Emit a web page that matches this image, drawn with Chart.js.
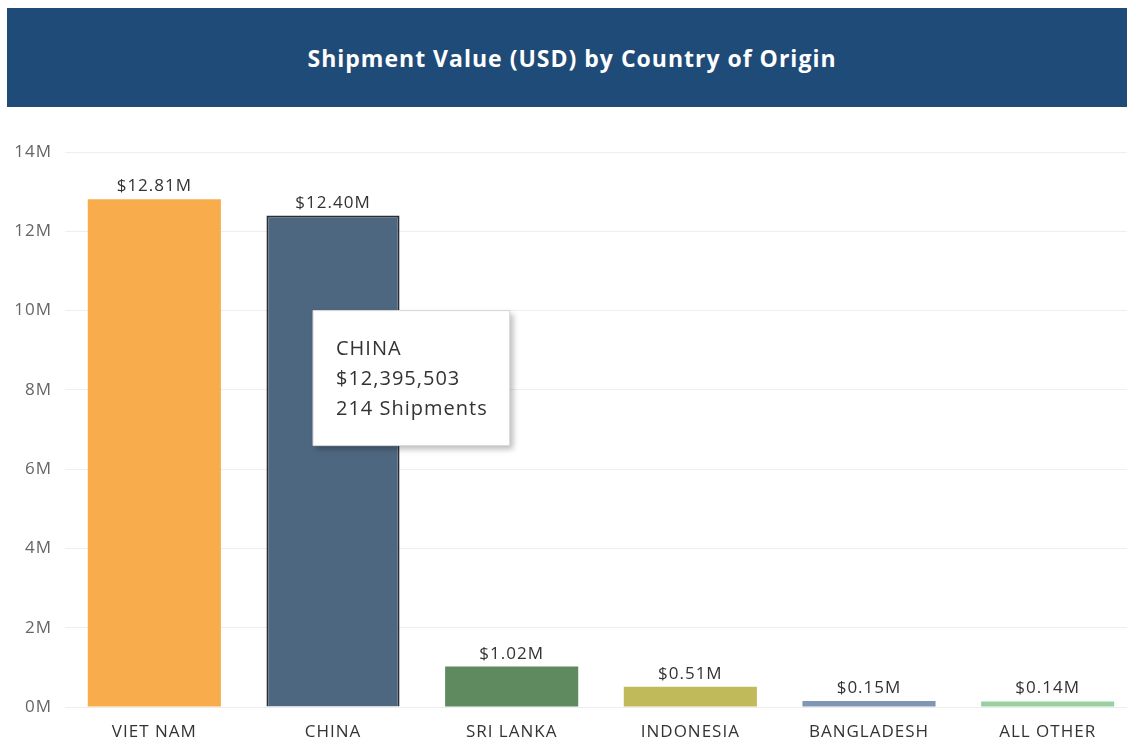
<!DOCTYPE html>
<html>
<head>
<meta charset="utf-8">
<script src="https://cdn.jsdelivr.net/npm/chart.js@4/dist/chart.umd.min.js"></script>
<style>
  html, body { margin: 0; padding: 0; background: #fff; overflow: hidden; width: 1127px; height: 742px; }
  .banner {
    position: absolute; left: 7px; top: 8px; width: 1120px; height: 99px;
    background: #1f4b78; color: #fff;
    font: bold 23px "Open Sans", sans-serif;
    letter-spacing: 1px;
    display: flex; align-items: center; justify-content: center;
    padding-left: 10px; box-sizing: border-box;
  }
  #chart { position: absolute; left: 0; top: 110px; }
</style>
</head>
<body>
<div class="banner">Shipment Value (USD) by Country of Origin</div>
<canvas id="chart" width="1137" height="632"></canvas>
<script>
const countries = ["VIET NAM", "CHINA", "SRI LANKA", "INDONESIA", "BANGLADESH", "ALL OTHER"];
const shipValue = [12810000, 12395503, 1020000, 510000, 150000, 140000];
const shipCount = [null, 214, null, null, null, null];
const barColors = ["#f8ac4c", "#4e6780", "#5f8a60", "#c1ba5a", "#7f97b5", "#98d0a0"];
const yTicks = [0, 2, 4, 6, 8, 10, 12, 14];
const tipIndex = 1;

const fmtM = v => "$" + (v / 1e6).toFixed(2) + "M";
const fmtUsd = v => "$" + Math.round(v).toLocaleString("en-US");

// the source font runs a bit wider than Open Sans
const spacing = {
  id: "spacing",
  beforeDraw(chart) { chart.ctx.letterSpacing = "1px"; }
};

const valueLabels = {
  id: "valueLabels",
  afterDatasetsDraw(chart) {
    const ctx = chart.ctx;
    const meta = chart.getDatasetMeta(0);
    ctx.save();
    ctx.font = "17px 'Open Sans', sans-serif";
    ctx.fillStyle = "#333";
    ctx.textAlign = "center";
    ctx.textBaseline = "alphabetic";
    meta.data.forEach((bar, i) => {
      ctx.fillText(fmtM(shipValue[i]), bar.x, bar.y - 8);
    });
    ctx.restore();
  }
};

const tipShadow = {
  id: "tipShadow",
  beforeTooltipDraw(chart, args) {
    const t = args.tooltip;
    const ctx = chart.ctx;
    ctx.save();
    ctx.shadowColor = "rgba(0,0,0,0.28)";
    ctx.shadowBlur = 6;
    ctx.shadowOffsetX = 3;
    ctx.shadowOffsetY = 3;
    ctx.fillStyle = "#fff";
    ctx.fillRect(t.x, t.y, t.width, t.height);
    ctx.restore();
  }
};

Chart.Tooltip.positioners.fixedBox = function (items) {
  if (!items.length) return false;
  const el = items[0].element;
  return { x: el.x - 20, y: el.y + 95 };
};

const chart = new Chart(document.getElementById("chart").getContext("2d"), {
  type: "bar",
  data: {
    labels: countries,
    datasets: [{
      data: shipValue,
      backgroundColor: barColors,
      borderColor: countries.map((c, i) => i === tipIndex ? "#2a2f36" : "rgba(0,0,0,0)"),
      borderWidth: countries.map((c, i) => i === tipIndex ? 2 : 0),
      barPercentage: 0.745,
      categoryPercentage: 1
    }]
  },
  options: {
    responsive: false,
    animation: false,
    events: [],
    layout: { padding: { top: 42, right: 0, left: 0, bottom: 0 } },
    plugins: {
      legend: { display: false },
      tooltip: {
        position: "fixedBox",
        xAlign: "left",
        yAlign: "top",
        caretSize: 0,
        caretPadding: 0,
        cornerRadius: 0,
        displayColors: false,
        backgroundColor: "#fff",
        borderColor: "#d6d6d6",
        borderWidth: 1,
        titleColor: "#333",
        bodyColor: "#333",
        titleFont: { family: "'Open Sans', sans-serif", size: 20, weight: "normal", lineHeight: "30px" },
        bodyFont: { family: "'Open Sans', sans-serif", size: 20, lineHeight: "30px" },
        titleMarginBottom: 0,
        bodySpacing: 0,
        padding: { top: 24, bottom: 21, left: 23, right: 22 },
        callbacks: {
          title: items => countries[items[0].dataIndex],
          label: item => fmtUsd(shipValue[item.dataIndex]),
          afterLabel: item => shipCount[item.dataIndex] + " Shipments"
        }
      }
    },
    scales: {
      x: {
        grid: { display: false },
        border: { display: false },
        ticks: { color: "#333", font: { family: "'Open Sans', sans-serif", size: 17 }, padding: 7 },
        afterFit: s => { s.height = 35; }
      },
      y: {
        min: 0,
        max: 14e6,
        grid: { color: "#eeeeee", drawTicks: false },
        border: { display: false },
        afterBuildTicks: s => { s.ticks = yTicks.map(v => ({ value: v * 1e6 })); },
        ticks: {
          color: "#666",
          font: { family: "'Open Sans', sans-serif", size: 17 },
          padding: 13,
          callback: v => (v / 1e6) + "M"
        },
        afterFit: s => { s.width = 65; }
      }
    }
  },
  plugins: [spacing, valueLabels, tipShadow]
});

chart.tooltip.setActiveElements([{ datasetIndex: 0, index: tipIndex }], { x: 0, y: 0 });
chart.update();
</script>
</body>
</html>
